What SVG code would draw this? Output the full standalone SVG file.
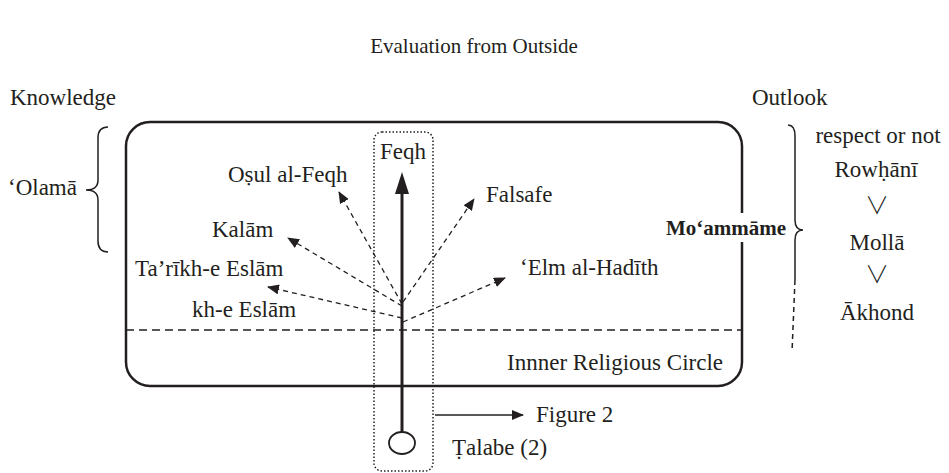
<svg xmlns="http://www.w3.org/2000/svg" width="949" height="473" viewBox="0 0 949 473">
<style>
text{font-family:"Liberation Serif","Times New Roman",serif;font-size:23px;fill:#231f20}
.t{font-size:21px}
.b{font-weight:bold;font-size:21px}
.sym{font-family:"Noto Sans CJK JP","DejaVu Sans",sans-serif;font-size:24px;font-weight:300}
.dash{fill:none;stroke:#231f20;stroke-width:1.3;stroke-dasharray:5 4}
.solid{fill:none;stroke:#231f20}
</style>
<defs>
<marker id="ah" markerWidth="12" markerHeight="10" refX="11" refY="5" orient="auto" markerUnits="userSpaceOnUse">
<path d="M0,0 L12,5 L0,10 Z" fill="#231f20"/>
</marker>
</defs>
<rect width="949" height="473" fill="#fff"/>
<text x="474" y="53" text-anchor="middle" class="t">Evaluation from Outside</text>
<g id="knowledge"><text x="10" y="105">Knowledge</text></g>
<g id="outlook"><text x="752" y="105">Outlook</text></g>
<g id="inner-circle">
<rect x="126" y="122" width="616" height="264" rx="24" ry="24" class="solid" stroke-width="2.5"/>
<line x1="126" y1="330" x2="742" y2="330" stroke="#231f20" stroke-width="1.5" stroke-dasharray="8 5"/>
<text x="723" y="370" text-anchor="end">Innner Religious Circle</text>
</g>
<g id="olama">
<path d="M108,127 Q98,127 98,138 L98,180 Q98,190 86,190 Q98,190 98,200 L98,241 Q98,252 108,252" class="solid" stroke-width="1.5"/>
<text x="8" y="195">‘Olamā</text>
</g>
<g id="moammame">
<rect x="664" y="213" width="124" height="29" fill="#fff"/>
<text x="786" y="235" text-anchor="end" class="b">Mo‘ammāme</text>
<path d="M788,125 Q795,125 795,136 L795,220 Q795,230 803,230 Q795,230 795,240 L795,280" class="solid" stroke-width="1.5"/>
<path d="M795,280 L792,352" class="solid" stroke-width="1.5" stroke-dasharray="5 4"/>
</g>
<g id="ranks">
<text x="878" y="143" text-anchor="middle">respect or not</text>
<text x="876" y="177" text-anchor="middle">Rowḥānī</text>
<text x="877" y="214" text-anchor="middle" class="sym">∨</text>
<text x="877" y="250" text-anchor="middle">Mollā</text>
<text x="877" y="283" text-anchor="middle" class="sym">∨</text>
<text x="877" y="320" text-anchor="middle">Ākhond</text>
</g>
<g id="talabe-path">
<rect x="374" y="132" width="59" height="339" rx="8" ry="8" fill="none" stroke="#231f20" stroke-width="1.5" stroke-dasharray="1.5 2"/>
<text x="403" y="159" text-anchor="middle">Feqh</text>
</g>
<g id="talabe">
<ellipse cx="402" cy="443" rx="13" ry="11" class="solid" stroke-width="1.8"/>
<text x="452" y="455">Ṭalabe (2)</text>
</g>
<g id="labels">
<text x="228" y="182">Oṣul al-Feqh</text>
<text x="486" y="202">Falsafe</text>
<text x="212" y="237">Kalām</text>
<text x="135" y="276">Ta’rīkh-e Eslām</text>
<text x="520" y="275">‘Elm al-Hadīth</text>
<text x="192" y="317">kh-e Eslām</text>
<text x="536" y="422">Figure 2</text>
</g>
<g id="connectors">
<line x1="402" y1="432" x2="402" y2="192" stroke="#231f20" stroke-width="3"/>
<polygon points="402,172 395,194 409,194" fill="#231f20"/>
<line x1="402" y1="304" x2="339" y2="192" class="dash" marker-end="url(#ah)"/>
<line x1="402" y1="306" x2="288" y2="238" class="dash" marker-end="url(#ah)"/>
<line x1="402" y1="318" x2="268" y2="287" class="dash" marker-end="url(#ah)"/>
<line x1="403" y1="302" x2="474" y2="199" class="dash" marker-end="url(#ah)"/>
<line x1="403" y1="322" x2="505" y2="278" class="dash" marker-end="url(#ah)"/>
<line x1="435" y1="415" x2="523" y2="415" stroke="#231f20" stroke-width="1.5" marker-end="url(#ah)"/>
</g>
</svg>
